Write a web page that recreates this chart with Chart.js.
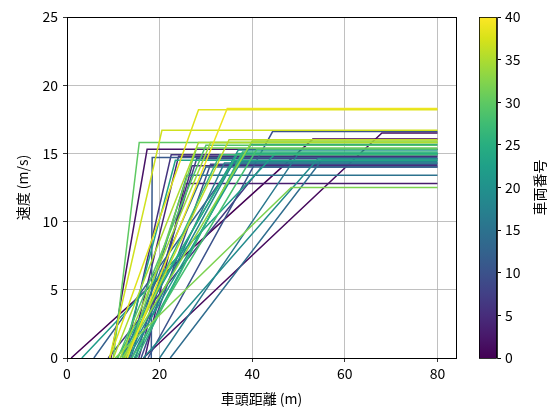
<!DOCTYPE html>
<html>
<head>
<meta charset="utf-8">
<script src="https://cdn.jsdelivr.net/npm/chart.js@4.4.1/dist/chart.umd.min.js"></script>
<style>
  html, body { margin: 0; padding: 0; background: #fff; }
  #wrap { position: relative; width: 551px; height: 412px; }
  #main { position: absolute; left: 0; top: 0; }
  #cbar { position: absolute; left: 479px; top: 0; }
</style>
</head>
<body>
<div id="wrap">
  <canvas id="main" width="551" height="412"></canvas>
  <canvas id="cbar" width="72" height="412"></canvas>
</div>
<script>
// ---- data ----
const vehicleIds = [0,1,2,3,4,5,6,7,8,9,10,11,12,13,14,15,16,17,18,19,20,21,22,23,24,25,26,27,28,29,30,31,32,33,34,35,36,37,38,39];
// headway where speed leaves 0 (m)
const startGap = [0.9,16.5,9.5,16.8,13.5,15.5,12.5,8.9,14.8,16.0,17.5,18.2,5.8,12.0,22.3,13.8,20.0,14.0,12.8,16.5,11.5,13.2,3.2,12.0,14.5,10.8,15.0,12.3,14.0,11.0,10.0,13.0,10.4,12.0,11.5,10.0,12.5,9.2,9.2,13.0];
// headway where max speed is reached (m)
const kneeGap  = [53.1,68.0,17.3,25.5,24.1,27.0,22.5,42.0,28.0,31.0,44.4,18.4,36.0,30.0,55.0,25.9,50.0,34.0,36.0,54.2,37.0,39.7,45.0,23.4,38.0,36.9,37.9,33.0,41.0,30.0,15.6,28.0,48.4,40.0,31.0,28.4,35.0,20.5,28.4,34.6];
// max speed (m/s)
const maxSpeed = [16.05,16.5,15.3,12.8,14.8,14.1,14.9,14.0,14.6,14.2,16.6,14.7,14.3,14.0,14.5,13.4,15.0,14.3,14.4,14.6,15.25,15.65,15.0,14.5,15.0,15.0,15.1,14.9,15.3,15.6,15.8,15.4,12.5,15.9,15.8,15.8,16.0,16.7,18.2,18.3];
const gapEnd = 80;
const xTicks = [0,20,40,60,80];
const yTicks = [0,5,10,15,20,25];
const cbTicks = [0,5,10,15,20,25,30,35,40];
const cbMin = 0, cbMax = 40;
const cbTitle = '車両番号';

// ---- viridis colormap ----
const viridisStops = ['#440154','#48186a','#472d7b','#424086','#3b528b','#33638d','#2c728e','#26828e','#21918c','#1fa088','#28ae80','#3fbc73','#5ec962','#84d44b','#addc30','#d8e219','#fde725'];
function hex2rgb(h){ return [parseInt(h.slice(1,3),16),parseInt(h.slice(3,5),16),parseInt(h.slice(5,7),16)]; }
function viridis(t){
  t = Math.max(0, Math.min(1, t));
  const n = viridisStops.length - 1;
  const p = t * n, i = Math.min(Math.floor(p), n - 1), f = p - i;
  const a = hex2rgb(viridisStops[i]), b = hex2rgb(viridisStops[i+1]);
  const c = a.map((v,k)=>Math.round(v + (b[k]-v)*f));
  return 'rgb(' + c.join(',') + ')';
}

const FONT = '"Noto Sans CJK JP", "DejaVu Sans", sans-serif';
Chart.defaults.font.family = FONT;
Chart.defaults.font.size = 14;
Chart.defaults.color = '#000';

const datasets = vehicleIds.map((id, i) => ({
  label: '車両' + id,
  data: [
    {x: startGap[i], y: 0},
    {x: kneeGap[i], y: maxSpeed[i]},
    {x: gapEnd, y: maxSpeed[i]}
  ],
  borderColor: viridis((id - cbMin) / (cbMax - cbMin)),
  borderWidth: 1.5,
  pointRadius: 0,
  tension: 0,
  fill: false,
  order: vehicleIds.length - i
}));

const frame = {
  id: 'frame',
  afterDraw(chart) {
    const {ctx, chartArea: a} = chart;
    ctx.save();
    ctx.strokeStyle = '#000';
    ctx.lineWidth = 1;
    ctx.strokeRect(Math.round(a.left)+0.5, Math.round(a.top)+0.5, Math.round(a.right-a.left), Math.round(a.bottom-a.top));
    ctx.restore();
  }
};

new Chart(document.getElementById('main'), {
  type: 'line',
  data: { datasets },
  options: {
    responsive: false,
    animation: false,
    layout: { padding: { left: 0, top: 17, right: 95, bottom: 0 } },
    plugins: { legend: { display: false }, tooltip: { enabled: false } },
    scales: {
      x: {
        type: 'linear', min: 0, max: 84,
        afterBuildTicks: s => { s.ticks = xTicks.map(v => ({value: v})); },
        afterFit: s => { s.height = 54; },
        grid: { color: '#b0b0b0', lineWidth: 0.8, tickColor: '#000', tickLength: 4, drawTicks: true },
        border: { display: true, color: '#000', width: 1 },
        ticks: { padding: 3, maxRotation: 0, autoSkip: false },
        title: { display: true, text: '車頭距離 (m)', padding: { top: 0, bottom: 5 } }
      },
      y: {
        type: 'linear', min: 0, max: 25,
        afterBuildTicks: s => { s.ticks = yTicks.map(v => ({value: v})); },
        afterFit: s => { s.width = 67; },
        grid: { color: '#b0b0b0', lineWidth: 0.8, tickColor: '#000', tickLength: 4, drawTicks: true },
        border: { display: true, color: '#000', width: 1 },
        ticks: { padding: 5, autoSkip: false },
        title: { display: true, text: '速度 (m/s)', padding: { top: 14, bottom: 0 } }
      }
    }
  },
  plugins: [frame]
});

const gradientBar = {
  id: 'gradientBar',
  beforeDatasetsDraw(chart) {
    const {ctx, chartArea: a} = chart;
    const g = ctx.createLinearGradient(0, a.bottom, 0, a.top);
    viridisStops.forEach((c, i) => g.addColorStop(i / (viridisStops.length - 1), c));
    ctx.save();
    ctx.fillStyle = g;
    ctx.fillRect(a.left, a.top, a.right - a.left, a.bottom - a.top);
    ctx.strokeStyle = '#000';
    ctx.lineWidth = 0.8;
    ctx.strokeRect(a.left + 0.5, a.top + 0.5, a.right - a.left - 1, a.bottom - a.top);
    ctx.restore();
  },
  afterDraw(chart) {
    // colorbar label, rotated counter-clockwise like the reference
    const {ctx, chartArea: a} = chart;
    ctx.save();
    ctx.translate(chart.width - 11, (a.top + a.bottom) / 2);
    ctx.rotate(-Math.PI / 2);
    ctx.fillStyle = '#000';
    ctx.font = '14px ' + FONT;
    ctx.textAlign = 'center';
    ctx.textBaseline = 'middle';
    ctx.fillText(cbTitle, 0, 0);
    ctx.restore();
  }
};

new Chart(document.getElementById('cbar'), {
  type: 'scatter',
  data: { datasets: [{ data: [] }] },
  options: {
    responsive: false,
    animation: false,
    layout: { padding: { left: 0, top: 17, right: 0, bottom: 54 } },
    plugins: { legend: { display: false }, tooltip: { enabled: false } },
    scales: {
      x: { display: false, min: 0, max: 1 },
      y: {
        position: 'right', min: cbMin, max: cbMax,
        afterBuildTicks: s => { s.ticks = cbTicks.map(v => ({value: v})); },
        afterFit: s => { s.width = 54; },
        grid: { drawOnChartArea: false, tickColor: '#000', tickLength: 4, drawTicks: true },
        border: { display: true, color: '#000', width: 0.8 },
        ticks: { padding: 4, autoSkip: false }
      }
    }
  },
  plugins: [gradientBar]
});
</script>
</body>
</html>
